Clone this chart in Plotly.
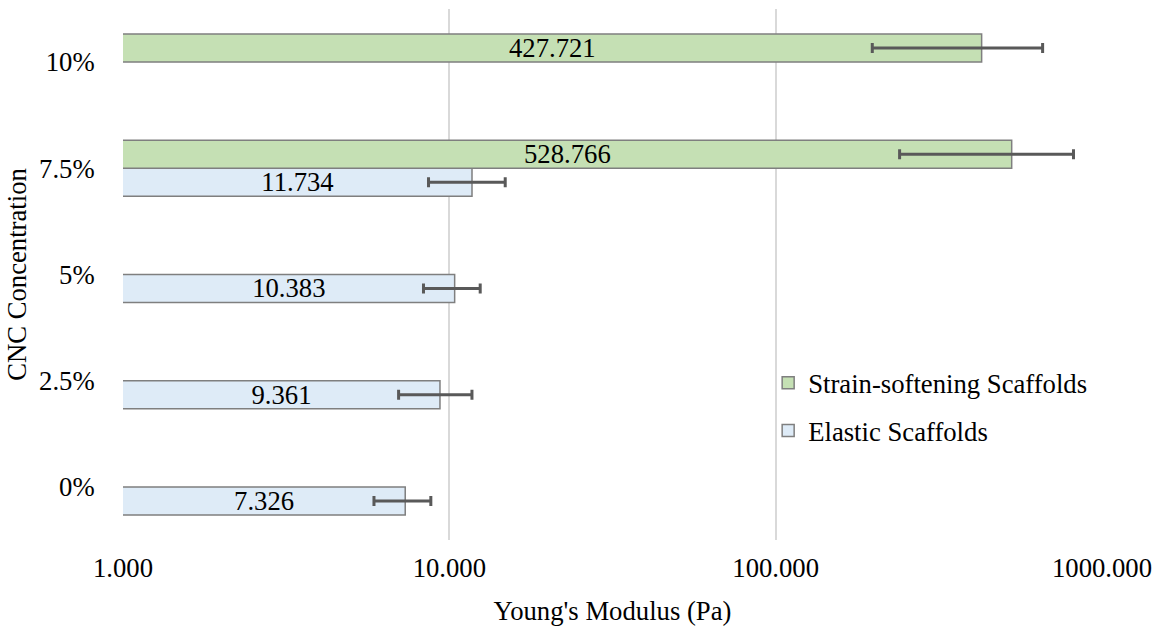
import plotly.graph_objects as go

# CNC concentration categories (bottom to top)
concentrations = ["0%", "2.5%", "5%", "7.5%", "10%"]

# Young's modulus (Pa) per scaffold type; None where no scaffold of that type exists
elastic_modulus = [7.326, 9.361, 10.383, 11.734, None]
elastic_err = [1.45, 2.37, 2.05, 3.1, None]

softening_modulus = [None, None, None, 528.766, 427.721]
softening_err = [None, None, None, 289, 230]

x_tickvals = [1, 10, 100, 1000]
x_ticktext = ["1.000", "10.000", "100.000", "1000.000"]

FONT = "'Liberation Serif', 'Times New Roman', Times, serif"
FS = 26.7
EDGE = "#7F7F7F"
ERR = "#595959"


def labels(vals):
    return [f"{v:.3f}" if v is not None else "" for v in vals]


fig = go.Figure()

fig.add_trace(go.Bar(
    name="Elastic Scaffolds",
    y=concentrations,
    x=elastic_modulus,
    orientation="h",
    marker=dict(color="#DEEBF7", line=dict(color=EDGE, width=1.5)),
    error_x=dict(type="data", array=elastic_err, visible=True,
                 color=ERR, thickness=3, width=5),
    text=labels(elastic_modulus),
    textposition="inside",
    insidetextanchor="middle",
    constraintext="none",
    textfont=dict(family=FONT, size=FS, color="black"),
    legendgroup="elastic",
    legendrank=2,
))

fig.add_trace(go.Bar(
    name="Strain-softening Scaffolds",
    y=concentrations,
    x=softening_modulus,
    orientation="h",
    marker=dict(color="#C5E0B4", line=dict(color=EDGE, width=1.5)),
    error_x=dict(type="data", array=softening_err, visible=True,
                 color=ERR, thickness=3, width=5),
    text=labels(softening_modulus),
    textposition="inside",
    insidetextanchor="middle",
    constraintext="none",
    textfont=dict(family=FONT, size=FS, color="black"),
    legendgroup="softening",
    legendrank=1,
))

fig.update_layout(
    width=1160,
    height=628,
    margin=dict(l=123, r=58, t=9, b=88),
    paper_bgcolor="white",
    plot_bgcolor="white",
    font=dict(family=FONT, size=FS, color="black"),
    barmode="group",
    bargap=0.473,
    bargroupgap=0,
    showlegend=True,
    legend=dict(
        x=0.659, xanchor="left",
        y=0.341, yanchor="top",
        traceorder="grouped",
        tracegroupgap=10,
        bgcolor="rgba(0,0,0,0)",
        font=dict(family=FONT, size=FS, color="black"),
    ),
    xaxis=dict(
        type="log",
        range=[0, 3],
        tickvals=x_tickvals,
        ticktext=x_ticktext,
        showgrid=True,
        gridcolor="#D9D9D9",
        gridwidth=1.5,
        zeroline=False,
        showline=False,
        ticks="outside",
        ticklen=4,
        tickcolor="rgba(0,0,0,0)",
        automargin=False,
        title=dict(text="Young's Modulus (Pa)", standoff=19,
                   font=dict(family=FONT, size=FS)),
    ),
    yaxis=dict(
        type="category",
        categoryorder="array",
        categoryarray=concentrations,
        showgrid=False,
        zeroline=False,
        showline=False,
        ticks="outside",
        ticklen=22,
        tickcolor="rgba(0,0,0,0)",
        automargin=False,
        title=dict(text="CNC Concentration", standoff=4,
                   font=dict(family=FONT, size=FS)),
    ),
)

fig.write_html("out.html")
